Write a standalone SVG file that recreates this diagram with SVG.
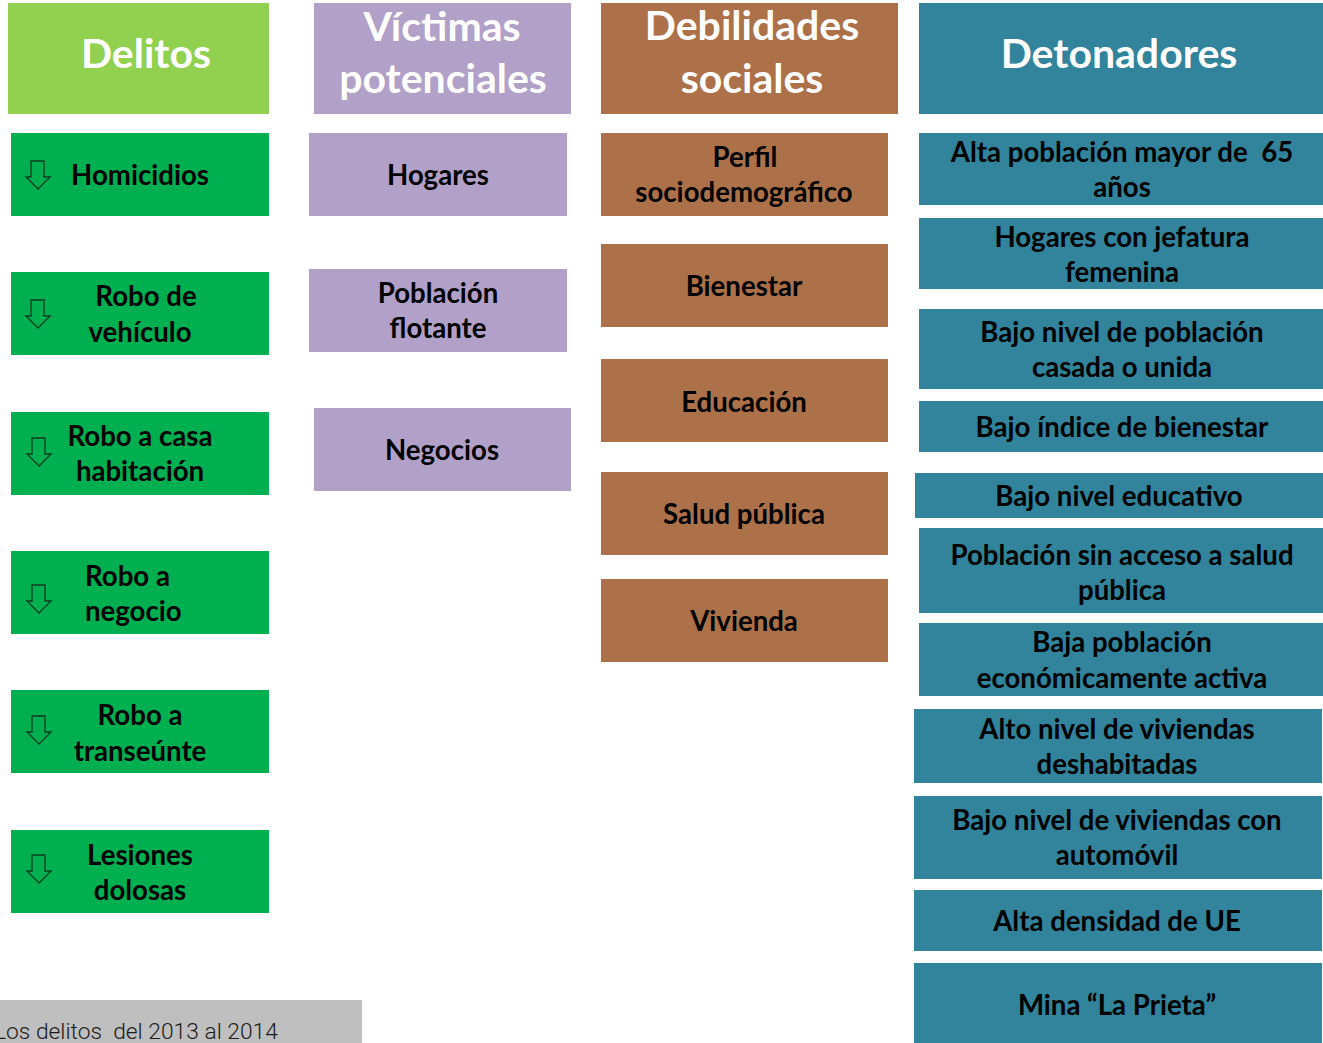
<svg xmlns="http://www.w3.org/2000/svg" width="1323" height="1043" viewBox="0 0 1323 1043">
<style>
.t{font-family:Lato,"Liberation Sans",sans-serif;font-weight:700;font-size:27.6px;text-anchor:middle;fill:#000;white-space:pre}
.h{font-family:Lato,"Liberation Sans",sans-serif;font-weight:700;font-size:41px;text-anchor:middle;fill:#fff}
.g{fill:#00B050}.lg{fill:#92D050}.p{fill:#B1A0C7}.b{fill:#AD714A}.c{fill:#31849B}
.ar{fill:none;stroke:#0b3d1c;stroke-width:1.3;stroke-linejoin:miter}
.ft{font-family:Roboto,"Liberation Sans",sans-serif;font-weight:300;font-size:22.8px;fill:#1a1a1a;white-space:pre}
</style>
<defs>
<path id="arr" class="ar" d="M5,0 H18 V16 H24 L12,28 L0,16 H5 Z"/>
</defs>
<rect width="1323" height="1043" fill="#fff"/>

<g id="h-delitos"><rect class="lg" x="8" y="3" width="261" height="111"/><text class="h" x="146" y="68">Delitos</text></g>
<g id="h-victimas"><rect class="p" x="314" y="3" width="257" height="111"/><text class="h" x="442" y="41">Víctimas</text><text class="h" x="443" y="93">potenciales</text></g>
<g id="h-debilidades"><rect class="b" x="601" y="3" width="297" height="111"/><text class="h" x="752" y="40">Debilidades</text><text class="h" x="752" y="93">sociales</text></g>
<g id="h-detonadores"><rect class="c" x="919" y="3" width="404" height="111"/><text class="h" x="1119" y="68">Detonadores</text></g>

<g id="d-homicidios"><rect class="g" x="11" y="133" width="258" height="83"/><use href="#arr" x="26" y="161"/><text class="t" x="140" y="185">Homicidios</text></g>
<g id="d-vehiculo"><rect class="g" x="11" y="272" width="258" height="83"/><use href="#arr" x="26" y="300"/><text class="t" x="146" y="306">Robo de</text><text class="t" x="140" y="342">vehículo</text></g>
<g id="d-casa"><rect class="g" x="11" y="412" width="258" height="83"/><use href="#arr" x="27" y="438"/><text class="t" x="140" y="446">Robo a casa</text><text class="t" x="140" y="481">habitación</text></g>
<g id="d-negocio"><rect class="g" x="11" y="551" width="258" height="83"/><use href="#arr" x="27" y="585"/><text class="t" x="85" y="586" style="text-anchor:start">Robo a</text><text class="t" x="85" y="621" style="text-anchor:start">negocio</text></g>
<g id="d-transeunte"><rect class="g" x="11" y="690" width="258" height="83"/><use href="#arr" x="27" y="716"/><text class="t" x="140" y="725">Robo a</text><text class="t" x="140" y="761">transeúnte</text></g>
<g id="d-lesiones"><rect class="g" x="11" y="830" width="258" height="83"/><use href="#arr" x="27" y="855"/><text class="t" x="140" y="865">Lesiones</text><text class="t" x="140" y="900">dolosas</text></g>

<g id="v-hogares"><rect class="p" x="309" y="133" width="258" height="83"/><text class="t" x="438" y="185">Hogares</text></g>
<g id="v-poblacion"><rect class="p" x="309" y="269" width="258" height="83"/><text class="t" x="438" y="303">Población</text><text class="t" x="438" y="338">flotante</text></g>
<g id="v-negocios"><rect class="p" x="314" y="408" width="257" height="83"/><text class="t" x="442" y="460">Negocios</text></g>

<g id="s-perfil"><rect class="b" x="601" y="133" width="287" height="83"/><text class="t" x="745" y="167">Perfil</text><text class="t" x="744" y="202">sociodemográfico</text></g>
<g id="s-bienestar"><rect class="b" x="601" y="244" width="287" height="83"/><text class="t" x="744" y="296">Bienestar</text></g>
<g id="s-educacion"><rect class="b" x="601" y="359" width="287" height="83"/><text class="t" x="744" y="412">Educación</text></g>
<g id="s-salud"><rect class="b" x="601" y="472" width="287" height="83"/><text class="t" x="744" y="524">Salud pública</text></g>
<g id="s-vivienda"><rect class="b" x="601" y="579" width="287" height="83"/><text class="t" x="744" y="631">Vivienda</text></g>

<g id="t-mayor65"><rect class="c" x="919" y="133" width="404" height="72"/><text class="t" x="1122" y="162">Alta población mayor de  65</text><text class="t" x="1122" y="197">años</text></g>
<g id="t-jefatura"><rect class="c" x="919" y="218" width="404" height="71"/><text class="t" x="1122" y="247">Hogares con jefatura</text><text class="t" x="1122" y="282">femenina</text></g>
<g id="t-casada"><rect class="c" x="919" y="309" width="404" height="80"/><text class="t" x="1122" y="342">Bajo nivel de población</text><text class="t" x="1122" y="377">casada o unida</text></g>
<g id="t-bienestar"><rect class="c" x="919" y="401" width="404" height="51"/><text class="t" x="1122" y="437">Bajo índice de bienestar</text></g>
<g id="t-educativo"><rect class="c" x="915" y="473" width="408" height="45"/><text class="t" x="1119" y="506">Bajo nivel educativo</text></g>
<g id="t-salud"><rect class="c" x="919" y="528" width="404" height="85"/><text class="t" x="1122" y="565">Población sin acceso a salud</text><text class="t" x="1122" y="600">pública</text></g>
<g id="t-pea"><rect class="c" x="919" y="623" width="404" height="73"/><text class="t" x="1122" y="652">Baja población</text><text class="t" x="1122" y="688">económicamente activa</text></g>
<g id="t-deshabitadas"><rect class="c" x="914" y="709" width="408" height="74"/><text class="t" x="1117" y="739">Alto nivel de viviendas</text><text class="t" x="1117" y="774">deshabitadas</text></g>
<g id="t-automovil"><rect class="c" x="914" y="796" width="408" height="83"/><text class="t" x="1117" y="830">Bajo nivel de viviendas con</text><text class="t" x="1117" y="865">automóvil</text></g>
<g id="t-ue"><rect class="c" x="914" y="890" width="408" height="61"/><text class="t" x="1117" y="931">Alta densidad de UE</text></g>
<g id="t-mina"><rect class="c" x="914" y="963" width="408" height="80"/><text class="t" x="1117" y="1015">Mina “La Prieta”</text></g>

<g id="connectors"/>

<g id="footer"><rect x="0" y="1000" width="362" height="43" fill="#BFBFBF"/><text class="ft" x="-6" y="1039">Los delitos  del 2013 al 2014</text></g>
</svg>
